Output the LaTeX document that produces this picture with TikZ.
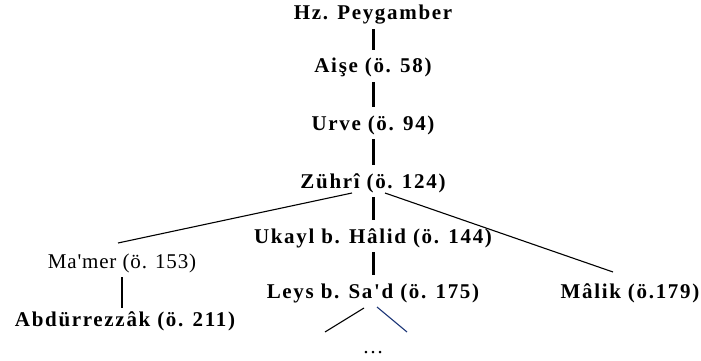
\documentclass[tikz,border=0pt]{standalone}
\usepackage{fontspec}
\setmainfont{Liberation Serif}
\newfontfamily\regnm{Liberation Serif}[LetterSpace=4]
\newfontfamily\boldnm{Liberation Serif}[LetterSpace=8]
\usetikzlibrary{calc}
\definecolor{navyline}{RGB}{31,56,121}
\tikzset{
  nm/.style={anchor=base, inner xsep=1pt, inner ysep=5pt, text height=18pt, text depth=4pt,
    font=\boldnm\bfseries\fontsize{21}{25}\selectfont},
  nmreg/.style={nm, font=\regnm\fontsize{21}{25}\selectfont},
  spine/.style={line width=3pt},
  thinline/.style={line width=1.1pt, black},
  navyconn/.style={line width=1.1pt, navyline}
}
\begin{document}
\begin{tikzpicture}[x=1pt,y=-1pt]
\useasboundingbox (0,0) rectangle (701,361);
\node[nm] (hz) at (373,20) {Hz. Peygamber};
\node[nm] (aise) at (373,73) {Aişe (ö. 58)};
\node[nm] (urve) at (373,130) {Urve (ö. 94)};
\node[nm] (zuhri) at (373,188) {Zührî (ö. 124)};
\node[nm] (ukayl) at (373,243) {Ukayl b. Hâlid (ö. 144)};
\node[nm] (leys) at (373,298) {Leys b. Sa'd (ö. 175)};
\node[nm] (malik) at (630,298) {Mâlik (ö.179)};
\node[nmreg] (mamer) at (122,268) {Ma'mer (ö. 153)};
\node[nm] (abd) at (125,326) {Abdürrezzâk (ö. 211)};
\node[nmreg] (dots) at (373,353) {\dots};
\coordinate (l1) at ($(dots.base)+(-48,-21)$);
\coordinate (l2) at ($(dots.base)+(34,-21)$);

\draw[spine] (hz.south) -- (aise.north);
\draw[spine] (aise.south) -- (urve.north);
\draw[spine] (urve.south) -- (zuhri.north);
\draw[spine] (zuhri.south) -- (ukayl.north);
\draw[spine] (ukayl.south) -- (leys.north);
\draw[thinline, shorten >=-5pt] (mamer.south) -- (mamer.south |- abd.north);
\draw[thinline] ($(zuhri.base)+(-21,5)$) -- ($(mamer.base)+(-4,-25)$);
\draw[thinline] ($(zuhri.base)+(12,5)$) -- ($(malik.base)+(-17,-26)$);
\draw[thinline] ($(leys.base)+(-9,10)$) -- (l1);
\draw[navyconn] ($(leys.base)+(4,9)$) -- (l2);
\end{tikzpicture}
\end{document}
